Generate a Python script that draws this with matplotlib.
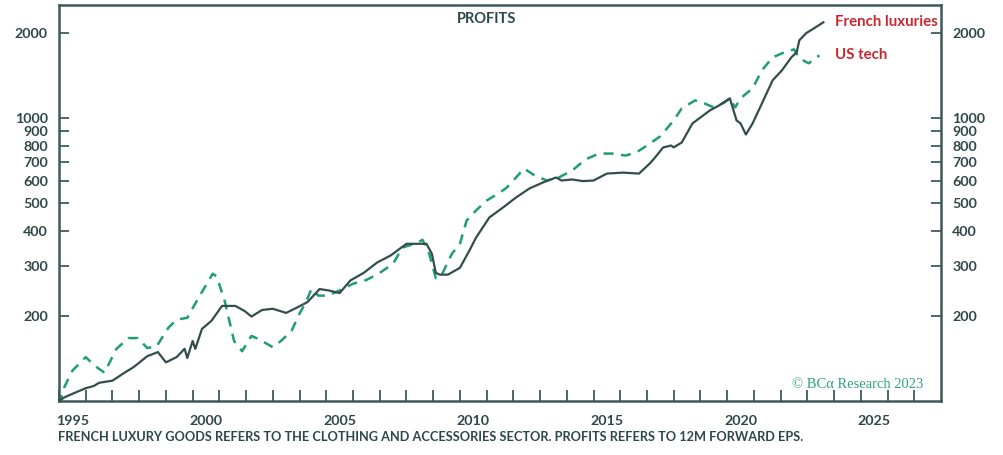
import numpy as np
import matplotlib
matplotlib.use("Agg")
import matplotlib.pyplot as plt
from matplotlib.ticker import FixedLocator, NullFormatter, NullLocator

# French luxuries, 12m forward EPS, indexed (1995 = 100)
fr_years = [1995.0, 1995.2, 1995.5, 1996.0, 1996.3, 1996.5, 1997.0, 1997.4, 1997.8,
            1998.3, 1998.7, 1999.0, 1999.4, 1999.7, 1999.8, 2000.0, 2000.1, 2000.35,
            2000.7, 2001.1, 2001.6, 2001.95, 2002.2, 2002.6, 2003.0, 2003.5, 2003.9,
            2004.3, 2004.75, 2005.1, 2005.5, 2005.9, 2006.4, 2006.9, 2007.4, 2008.0,
            2008.75, 2008.95, 2009.1, 2009.25, 2009.55, 2010.0, 2010.35, 2010.6, 2011.1,
            2011.6, 2012.1, 2012.6, 2013.1, 2013.6, 2013.8, 2014.2, 2014.6, 2015.0,
            2015.5, 2016.1, 2016.7, 2017.1, 2017.3, 2017.6, 2017.9, 2018.0, 2018.3,
            2018.7, 2019.0, 2019.35, 2019.7, 2020.1, 2020.35, 2020.5, 2020.7, 2020.95,
            2021.3, 2021.7, 2022.05, 2022.4, 2022.6, 2022.7, 2022.95, 2023.25, 2023.6]
fr_vals = [100, 103, 106, 111, 113, 116, 118, 125, 132,
           144, 149, 137, 143, 153, 142, 163, 153, 180,
           192, 217, 217, 208, 199, 210, 212, 205, 214,
           224, 249, 246, 241, 267, 284, 309, 327, 360,
           360, 332, 284, 280, 280, 296, 340, 378, 446,
           483, 525, 565, 593, 618, 603, 608, 600, 603,
           638, 643, 638, 692, 727, 789, 802, 790, 822,
           960, 1008, 1067, 1112, 1178, 984, 960, 877, 960,
           1130, 1364, 1480, 1645, 1714, 1890, 2001, 2085, 2189]

# US tech, 12m forward EPS, indexed (1995 = 100)
us_years = [1995.0, 1995.2, 1995.5, 1996.0, 1996.35, 1996.7, 1997.15, 1997.6, 1997.95,
            1998.3, 1998.65, 1999.1, 1999.4, 1999.8, 2000.2, 2000.75, 2000.9, 2001.2,
            2001.55, 2001.85, 2002.2, 2002.5, 2003.0, 2003.3, 2003.7, 2004.0, 2004.2,
            2004.45, 2004.7, 2005.05, 2005.5, 2006.0, 2006.5, 2007.0, 2007.5, 2007.85,
            2008.4, 2008.6, 2008.85, 2009.1, 2009.3, 2009.7, 2010.0, 2010.25, 2010.6,
            2011.0, 2011.5, 2011.75, 2012.1, 2012.4, 2012.8, 2013.25, 2013.7, 2014.2,
            2014.7, 2015.2, 2015.7, 2016.2, 2016.6, 2017.0, 2017.5, 2018.0, 2018.3,
            2018.8, 2019.15, 2019.5, 2019.9, 2020.1, 2020.3, 2020.5, 2020.95, 2021.3,
            2021.7, 2022.05, 2022.5, 2022.7, 2023.05, 2023.45]
us_vals = [97, 112, 128, 143, 133, 126, 153, 167, 167,
           154, 156, 182, 194, 197, 230, 282, 276, 226,
           163, 150, 170, 165, 155, 163, 177, 204, 220,
           249, 236, 236, 246, 260, 268, 284, 306, 349,
           363, 372, 332, 272, 277, 332, 360, 435, 472,
           512, 547, 569, 618, 665, 628, 603, 618, 654,
           716, 751, 751, 739, 758, 802, 865, 984, 1085,
           1158, 1130, 1094, 1139, 1178, 1094, 1178, 1278, 1480,
           1645, 1700, 1756, 1632, 1567, 1672]

y_ticks = [200, 300, 400, 500, 600, 700, 800, 900, 1000, 2000]
x_labels = [1995, 2000, 2005, 2010, 2015, 2020, 2025]

dark = "#2e4848"
green = "#1f9e74"
red = "#c8272f"
plt.rcParams["font.family"] = ["Lato", "DejaVu Sans"]

fig = plt.figure(figsize=(10.04, 4.55), dpi=100)
ax = fig.add_axes([59 / 1004, 1 - 401 / 455, 882 / 1004, 396 / 455])

ax.plot(fr_years, fr_vals, color="#334d4d", lw=1.6, zorder=3)
ax.plot(us_years, us_vals, color=green, lw=1.8, dashes=(4, 3), zorder=2)

ax.set_yscale("log")
ax.set_xlim(1995, 2028)
ax.set_ylim(100, 2520)

for s in ax.spines.values():
    s.set_color("#3d5a5a")
    s.set_linewidth(1.8)

# y axis: labels on both sides, ticks pointing inward
ax.yaxis.set_major_locator(FixedLocator(y_ticks))
ax.yaxis.set_minor_locator(NullLocator())
ax.set_yticklabels([str(v) for v in y_ticks])
ax.yaxis.set_minor_formatter(NullFormatter())
ax.tick_params(axis="y", which="major", direction="in", length=7, width=1.3,
               color="#3d5a5a", left=True, right=True, labelleft=True, labelright=True,
               labelsize=10.3, labelcolor=dark, pad=8)
for t in ax.yaxis.get_major_ticks():
    t.label1.set_fontweight("bold")
    t.label2.set_fontweight("bold")

# x axis: year ticks inward, labels centered within year
ax.xaxis.set_minor_locator(FixedLocator(np.arange(1995, 2028)))
ax.xaxis.set_major_locator(FixedLocator([y + 0.5 for y in x_labels]))
ax.set_xticklabels([str(y) for y in x_labels], fontweight="bold")
ax.tick_params(axis="x", which="major", length=0, labelsize=10.3, labelcolor=dark, pad=10)
ax.tick_params(axis="x", which="minor", direction="in", length=8, width=1.3,
               color="#3d5a5a")

ax.text(0.485, 0.965, "PROFITS", transform=ax.transAxes, ha="center", va="center",
        fontsize=10.5, fontweight="bold", color=dark)

ax.text(2024.05, 2190, "French luxuries", ha="left", va="center", fontsize=10.8,
        fontweight="bold", color=red)
ax.text(2024.05, 1670, "US tech", ha="left", va="center", fontsize=10.8,
        fontweight="bold", color=red)

ax.text(2027.35, 114, "\u00a9 BC\u03b1 Research 2023", ha="right", va="center",
        fontsize=10.5, color="#2fa47c", family=["Liberation Serif", "DejaVu Serif"])

fig.text(58 / 1004, 1 - 437 / 455,
         "FRENCH LUXURY GOODS REFERS TO THE CLOTHING AND ACCESSORIES SECTOR. "
         "PROFITS REFERS TO 12M FORWARD EPS.",
         ha="left", va="center", fontsize=9.15, fontweight="bold", color=dark)

fig.savefig("out.png", dpi=100)
